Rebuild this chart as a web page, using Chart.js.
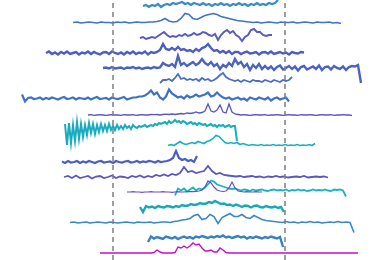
<!DOCTYPE html>
<html><head><meta charset="utf-8">
<script src="https://cdn.jsdelivr.net/npm/chart.js@4.4.0/dist/chart.umd.min.js"></script>
<style>html,body{margin:0;padding:0;background:#fff}#c{display:block}</style>
</head><body>
<canvas id="c" width="390" height="260"></canvas>
<script>
// channel where each spectrum starts, sampling step, and vertical offset (stacking)
const starts  = [143, 73, 140, 46, 103, 160, 22, 88, 65, 168, 62, 64, 127, 175, 140, 70, 148, 100];
const steps   = [3, 4, 3, 3, 3, 3, 3, 3, 2, 3, 3, 4, 3, 3, 3, 4, 3, 3];
const offsets = [254, 237.5, 222, 207, 192, 178, 161.5, 145, 133, 114.5, 98, 83, 68, 69.5, 53, 37.5, 22, 7];
const markers = [113, 285];

const s1 = [0,1,-1,1,0,2,-1,1,2,1,3,2,3,4,2,3,1,3,2,1,3,1,2,0,2,1,3,1,2,0,2,1,3,1,2,0,2,1,3,1,2,1,3,2,3,6];
const s2 = [0,0.5,-0.5,0,0.5,0,-0.5,0.5,0,0,-0.5,0.5,0,0.5,-0.5,0,0.5,0,0,0.5,0.5,1,
  2,4,1.5,0.5,1,4,9,8,4,3,5,7,8,9,8,6,5,4,3,2,1.5,1,
  0.5,0,0.5,-0.5,0,0.5,0,-0.5,0.5,0,0,0.5,-0.5,0,0.5,0,-0.5,0.5,0,0,0.5,-0.5,0,-1];
const s3 = [0,1,-1,0,1,0,2,4,6,3,1,2,1,3,2,4,2,3,5,3,4,6,5,3,2,4,-2,3,6,8,5,7,3,1,-3,1,3,8,9,6,6,3,2,3,3];
const s4 = [0,1.5,-1,0.5,-1.5,1,-0.5,1.5,-1,0,1,-1.5,0.5,-0.5,1.5,-1,1,-0.5,-1.5,0.5,1,-1,1.5,0,-1,0.5,-1.5,1,-0.5,1.5,
  -1,0.5,-0.5,1.5,-1.5,1,0,1,3,
  9,4,3,5,3,6,3,4,2,3,1,4,2,5,6,
  9,5,2,3,0.5,2,0,2,-1,1,
  1,-1,0.5,1.5,-0.5,0,1,-1.5,0.5,1,-0.5,1.5,-1,0,1,-0.5,0.5,-1.5,1,0,-0.5,1,0.5];
const s5 = [0,0.5,-0.5,1,-0.5,0,0.5,-1,0.5,0,1,-0.5,0.5,-1,0,0.5,-0.5,1,0,0.5,
  5,3,2,4,1,12,3,5,2,4,6,3,5,
  9,5,3,6,2,4,-1,3,1,5,2,
  9,4,6,1,4,-2,3,0,4,-1,
  2,-1,1.5,-2,1,2.5,-1.5,0,2,-1,1.5,-2.5,1,2,-1.5,0,1.5,-1,2.5,-2,1,1.5,-1.5,2,0,-1,1.5,-2,1,2,1.5,3,
  -15];
const s6 = [-1,2,2,3,1,4,8,3,4,2,3,2,3,1,4,2,3,1,2,4,7,9,5,3,2,1,2,0,2,1,0,2,1,1,0,2,1,0,2,1,0,2,1,2,5];
const s7 = [4,-3,0.5,1,-0.5,0,1,-1,0.5,-0.5,1,0,-1,0.5,1.5,-0.5,0,1,-1,0.5,0,-0.5,1,-1,0.5,1.5,-0.5,0,0.5,-1,1,0,-0.5,0.5,1.5,-1,0,1,1,2,2,3,5,
  8,4,6,1,-1,2,9,5,3,1,2,0,3,1,2,4,2,3,4,
  6,2,3,6,3,1,0,
  1,-1,0,1,-1,0,-2,1,0,-1,1,0,-1,1,-2,0,1,-1,0,1,-3];
const s8 = [0,0.3,-0.3,0,0.3,0,-0.3,0,0.3,0,0,-0.3,0.3,0,0,0.3,-0.3,0,0.3,0,0,0.5,0.3,0.5,0,0.5,0.8,0.5,1,0.5,1,1.5,1,2,1.5,
  2,3,2,2.5,4,
  11,4,3,5,10,3,2,11,3,1,
  0.5,0,0.3,0,-0.3,0,0.3,0,0,0.3,-0.3,0,0,0.3,0,-0.3,0,0.3,0,0,-0.3,0.3,0,0,0.3,0,-0.3,0,0.3,0,0,0.3,-0.3,0,0,0.3,0,0,-0.3];
const s9 = [3,-18,4,-16,2,-14,5,-12,3,-10,
  2,-8,4,-6,3,-7,2,-5,3,-4,
  2,-4,3,-3,1,-3,2,-2,1,-2,
  2,-1,1,-2,2,0,-1,1,0,1,
  2,0,1,2,1,3,2,4,3,4,
  5,3,6,4,5,7,5,6,4,6,
  5,3,4,5,3,4,2,4,3,2,
  3,1,2,3,1,2,0,2,1,2,
  0,1,2,0,1,1,-14];
const s10 = [0,1,0,2,4,2,1,2,3,2,4,3,2,4,5,7,10,9,6,3,2,3,2,3,1,2,1,0,1,0.5,0,1,0,0.5,0,1,0,0.5,0,1,0,0.5,0,1,0,0.5,0,1,0,2];
const s11 = [0.5,-1,1,-0.5,0,1,-1,0.5,-0.5,1,0,-1,0.5,1,-0.5,0,0.5,-1,1,0,-0.5,0.5,1,-0.5,0,1,-0.5,0.5,0,1,0.5,-0.5,1,0,0.5,1,2,4,
  11,4,2,3,1,2,0,6];
const s12 = [0,1,-1,1.5,-1,0,1,-1.5,0.5,1,-1,0,1.5,-1,0.5,0,-1,1,0,1.5,-0.5,1,0,2,1,2.5,1,3,2,
  4,10,5,6,4,5,6,11,6,3,4,2,1.5,
  1,0.5,1,0,0.5,1,0,0.5,-0.5,0.5,0,1,0,0.5,-0.5,0,0.5,0,1,-0.5,0,0.5,0,0.5,-0.5];
const s13 = [0,0,0.3,0,0,-0.3,0,0,0.3,0,0,0,0.3,0,0,-0.3,0,0.3,0,0,0.3,0.5,0.3,0.5,1,2,5,
  11,9,5,2,1,0.5,1,4,10,4,1,
  0.5,0,0.3,0,0,0.3,0,0];
const s14 = [-5,2,0,2,-1,1,3,0,2,1,3,6,
  10,9,6,5,4,3,2,1.5,2,
  1,0,1,0.5,-0.5,1,0,0.5,1,0,-0.5,0.5,1,0,0.5,0,1,-0.5,0.5,0,1,0,0.5,-0.5,0,1,0,0.5,0,1,0,-0.5,1,0.5,1,0,-6];
const s15 = [0,-5,1,-0.5,0.5,-1,1,0,-0.5,1,0.5,-0.5,1,0,2,1,1.5,3,2,2.5,4,3,3.5,5,4,6,4.5,3,3.5,2,
  2.5,1,2.5,1.5,0,1.5,1,-0.5,1,1.5,0,-0.5,1,0,-0.5,0.5,-1,0,-5];
const s16 = [0,0.5,-0.5,0,0.5,-0.5,0,0.5,0,-0.5,0.5,0,-0.5,0,0.5,0,-0.5,0.5,0,0,0.5,-0.5,0,0.5,0.5,0,
  1,1.5,2.5,3,4,7,8,3,4,8,6,-1,5,7,9,6,6,8,5,4,7,5,3,2,1.5,1,
  0.5,0,1,0,0.5,-0.5,0.5,0,1,0,0.5,-0.5,0,0.5,0,1,0,0.5,0,-10];
const s17 = [-4,1.5,-0.5,1,0,-1,1.5,0.5,-0.5,1,-1,0.5,1.5,0,1,-0.5,1.5,0.5,2,1,0,1.5,0.5,2,1,2.5,0.5,1.5,0,1,
  2,0.5,1.5,-0.5,1,0,1.5,0.5,-0.5,1,0,1.5,0.5,-0.5,1,-9];
const s18 = [0,0,0,0,0,0,0,0,0,0,0,0,0,0,0,0,0,0,0.5,
  3,1,0,0,0,0,0.5,
  6,5,7,5,7,10,8,9,5,2,2,3,1,1,5,3,0.5,
  0,0,0,0,0,0,0,0,0,0,0,0,0,0,0,0,0,0,0,0,0,0,0,0,0,0,0,0,0,0,0,0,0,0,0,0,0,0,0,0,0,0,0,0];

const series = [s1,s2,s3,s4,s5,s6,s7,s8,s9,s10,s11,s12,s13,s14,s15,s16,s17,s18];
const colors = ['#3b8bc9','#3f74c6','#5a5cc0','#4d5ec2','#4a63c2','#4b6fc5','#3f72c5','#5855c0','#18acbf',
                '#1ab0bf','#4a5fc2','#5a56c4','#6a4ec8','#18b4c3','#1aa8b8','#3a88c6','#3a80c4','#c80fc4'];
const widths = [2.2,1.6,2,2.4,2.4,1.8,2.2,1.3,2,1.6,2.2,1.8,1.2,1.8,2.4,1.6,2.4,1.4];

const datasets = [];
markers.forEach(m => datasets.push({
  data: [{x:m, y:0}, {x:m, y:260}], borderColor:'#808080', borderWidth:1.5,
  borderDash:[5,4], order:0
}));
series.forEach((vals, k) => datasets.push({
  data: vals.map((v, i) => ({x: starts[k] + i*steps[k], y: offsets[k] + v})),
  borderColor: colors[k], borderWidth: widths[k], order: 1
}));

new Chart(document.getElementById('c'), {
  type: 'line',
  data: { datasets },
  options: {
    responsive: false, animation: false,
    layout: { padding: 0 },
    elements: { point: { radius: 0 }, line: { tension: 0, fill: false } },
    plugins: { legend: { display: false }, tooltip: { enabled: false } },
    scales: {
      x: { type: 'linear', min: 0, max: 390, display: false },
      y: { type: 'linear', min: 0, max: 260, display: false }
    }
  }
});
</script>
</body></html>
